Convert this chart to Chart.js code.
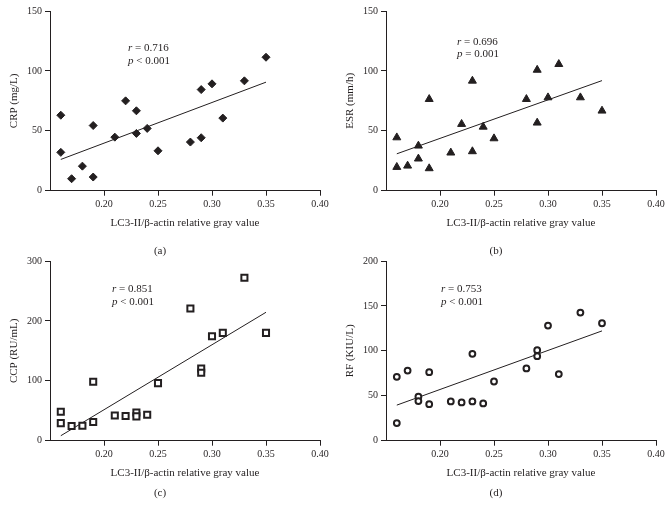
<!DOCTYPE html>
<html>
<head>
<meta charset="utf-8">
<script src="https://cdn.jsdelivr.net/npm/chart.js@4.4.1/dist/chart.umd.min.js"></script>
<style>
  body { margin: 0; background: #fff; }
  #wrap { position: relative; width: 672px; height: 515px; overflow: hidden; background: #fff; }
  canvas { position: absolute; }
</style>
</head>
<body>
<div id="wrap">
  <canvas id="chartA" width="336" height="262" style="left:0;top:0"></canvas>
  <canvas id="chartB" width="336" height="262" style="left:336px;top:0"></canvas>
  <canvas id="chartC" width="336" height="265" style="left:0;top:250px"></canvas>
  <canvas id="chartD" width="336" height="265" style="left:336px;top:250px"></canvas>
</div>
<script>
// values
const xTicks = [0.20, 0.25, 0.30, 0.35, 0.40];
const fitX = [0.16, 0.35];

const crpX = [0.16, 0.16, 0.17, 0.18, 0.19, 0.19, 0.21, 0.22, 0.23, 0.23, 0.24, 0.25, 0.28, 0.29, 0.29, 0.30, 0.31, 0.33, 0.35];
const crpY = [63, 32, 10, 20.5, 54.4, 11.4, 44.7, 75, 66.7, 47.8, 52, 33.3, 40.6, 84.4, 44.2, 89.2, 60.6, 91.7, 111.4];
const crpFit = [26.1, 90.6];
const crpTicks = [0, 50, 100, 150];

const esrX = [0.16, 0.16, 0.17, 0.18, 0.18, 0.19, 0.19, 0.21, 0.22, 0.23, 0.23, 0.24, 0.25, 0.28, 0.29, 0.29, 0.30, 0.31, 0.33, 0.35];
const esrY = [44.4, 19.7, 20.8, 37.5, 26.7, 76.4, 18.6, 31.7, 55.6, 91.7, 32.8, 53.3, 43.6, 76.4, 100.8, 56.7, 77.8, 105.6, 77.8, 66.7];
const esrFit = [30.8, 91.9];
const esrTicks = [0, 50, 100, 150];

const ccpX = [0.16, 0.16, 0.17, 0.18, 0.19, 0.19, 0.21, 0.22, 0.23, 0.23, 0.24, 0.25, 0.28, 0.29, 0.29, 0.30, 0.31, 0.33, 0.35];
const ccpY = [48.3, 29.4, 24.4, 25, 98.3, 31.1, 42.2, 41.1, 47.2, 40.6, 43.3, 96.1, 220.6, 120.6, 113.3, 174.4, 180, 272, 180];
const ccpFit = [8.3, 214.4];
const ccpTicks = [0, 100, 200, 300];

const rfX = [0.16, 0.16, 0.17, 0.18, 0.18, 0.19, 0.19, 0.21, 0.22, 0.23, 0.23, 0.24, 0.25, 0.28, 0.29, 0.29, 0.30, 0.31, 0.33, 0.35];
const rfY = [71.1, 19.6, 78.1, 48.9, 44.1, 76.3, 40.7, 43.7, 42.6, 96.7, 43.7, 41.5, 65.9, 80.4, 100.7, 94.1, 128.1, 74.1, 142.6, 130.7];
const rfFit = [39.6, 122.2];
const rfTicks = [0, 50, 100, 150, 200];

const xTitle = 'LC3-II/\u03b2-actin relative gray value';
const ink = '#231f20';
const serif = "'Liberation Serif', 'DejaVu Serif', serif";

// r / p note with italic letter
const statNote = {
  id: 'statNote',
  afterDraw(chart, args, opts) {
    const ctx = chart.ctx;
    ctx.save();
    ctx.fillStyle = ink;
    ctx.textBaseline = 'middle';
    opts.lines.forEach((line, i) => {
      const y = opts.y + i * opts.gap;
      ctx.font = 'italic 11px ' + serif;
      ctx.fillText(line[0], opts.x, y);
      const w = ctx.measureText(line[0]).width;
      ctx.font = '11px ' + serif;
      ctx.fillText(line[1], opts.x + w, y);
    });
    ctx.restore();
  }
};

function toPoints(xs, ys) {
  return xs.map((x, i) => ({ x, y: ys[i] }));
}

function makePanel(id, cfg) {
  const yTicks = cfg.yTicks;
  return new Chart(document.getElementById(id), {
    type: 'scatter',
    data: {
      datasets: [
        {
          data: toPoints(cfg.xs, cfg.ys),
          pointStyle: cfg.marker,
          pointRadius: cfg.radius,
          pointHoverRadius: cfg.radius,
          pointBorderWidth: cfg.border,
          backgroundColor: cfg.fill,
          borderColor: ink
        },
        {
          data: toPoints(fitX, cfg.fit),
          showLine: true,
          pointRadius: 0,
          borderColor: ink,
          borderWidth: 1
        }
      ]
    },
    options: {
      responsive: false,
      animation: false,
      layout: { padding: { top: 11, left: 0, right: 16, bottom: 0 } },
      plugins: {
        legend: { display: false },
        tooltip: { enabled: false },
        title: {
          display: true,
          position: 'bottom',
          text: cfg.label,
          color: ink,
          font: { family: serif, size: 11, weight: 'normal' },
          padding: cfg.labelPad
        },
        statNote: cfg.note
      },
      scales: {
        x: {
          type: 'linear',
          min: 0.15,
          max: 0.40,
          afterBuildTicks: (scale) => { scale.ticks = xTicks.map((v) => ({ value: v })); },
          afterFit: (scale) => { scale.height = 38.6; },
          ticks: {
            color: ink,
            padding: 3,
            font: { family: serif, size: 10 },
            callback: (v) => Number(v).toFixed(2)
          },
          grid: { display: true, drawOnChartArea: false, drawTicks: true, tickLength: 5, color: ink },
          border: { display: true, color: ink, width: 1 },
          title: {
            display: true,
            text: xTitle,
            color: ink,
            font: { family: serif, size: 11 },
            padding: { top: 0, bottom: 0 }
          }
        },
        y: {
          type: 'linear',
          min: yTicks[0],
          max: yTicks[yTicks.length - 1],
          afterBuildTicks: (scale) => { scale.ticks = yTicks.map((v) => ({ value: v })); },
          afterFit: (scale) => { scale.width = 50; },
          ticks: { color: ink, padding: 3, font: { family: serif, size: 10 } },
          grid: { display: true, drawOnChartArea: false, drawTicks: true, tickLength: 5, color: ink },
          border: { display: true, color: ink, width: 1 },
          title: {
            display: true,
            text: cfg.yTitle,
            color: ink,
            font: { family: serif, size: 11 },
            padding: { top: 7.4, bottom: 0 }
          }
        }
      }
    },
    plugins: [statNote]
  });
}

makePanel('chartA', {
  xs: crpX, ys: crpY, fit: crpFit, yTicks: crpTicks, yTitle: 'CRP (mg/L)',
  marker: 'rectRot', radius: 4, border: 1, fill: ink,
  label: '(a)', labelPad: { top: 15.1, bottom: 4.4 },
  note: { lines: [['r', ' = 0.716'], ['p', ' < 0.001']], x: 128, y: 48, gap: 13.3 }
});
makePanel('chartB', {
  xs: esrX, ys: esrY, fit: esrFit, yTicks: esrTicks, yTitle: 'ESR (mm/h)',
  marker: 'triangle', radius: 4.6, border: 1, fill: ink,
  label: '(b)', labelPad: { top: 15.1, bottom: 4.4 },
  note: { lines: [['r', ' = 0.696'], ['p', ' = 0.001']], x: 121, y: 42.3, gap: 11.7 }
});
makePanel('chartC', {
  xs: ccpX, ys: ccpY, fit: ccpFit, yTicks: ccpTicks, yTitle: 'CCP (RU/mL)',
  marker: 'rect', radius: 4.3, border: 2, fill: '#ffffff',
  label: '(c)', labelPad: { top: 6.8, bottom: 15.7 },
  note: { lines: [['r', ' = 0.851'], ['p', ' < 0.001']], x: 112, y: 39.3, gap: 13 }
});
makePanel('chartD', {
  xs: rfX, ys: rfY, fit: rfFit, yTicks: rfTicks, yTitle: 'RF (KIU/L)',
  marker: 'circle', radius: 2.9, border: 2, fill: '#ffffff',
  label: '(d)', labelPad: { top: 6.8, bottom: 15.7 },
  note: { lines: [['r', ' = 0.753'], ['p', ' < 0.001']], x: 105, y: 39.3, gap: 13 }
});
</script>
</body>
</html>
